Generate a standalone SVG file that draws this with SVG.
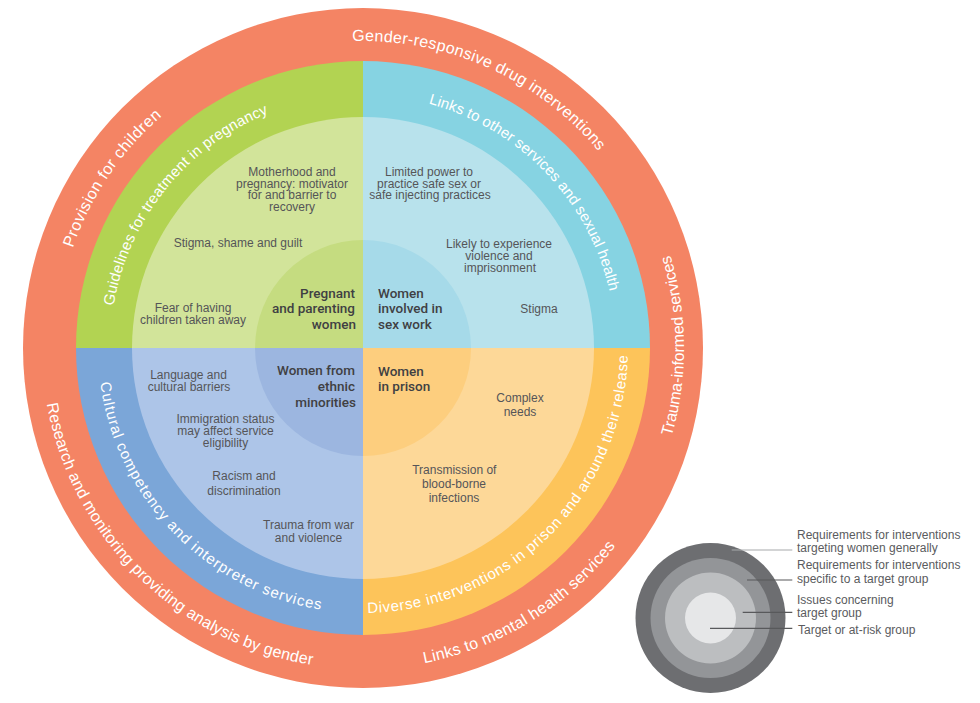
<svg xmlns="http://www.w3.org/2000/svg" width="980" height="703" viewBox="0 0 980 703">
<style>
.ring{font-family:"Liberation Sans",Arial,sans-serif;fill:#ffffff}
.outer{font-size:16px}
.inner{font-size:15px}
.issue{font-family:"Liberation Sans",Arial,sans-serif;font-size:12px;fill:#555558;text-anchor:middle}
.grp{font-family:Roboto,"Liberation Sans",Arial,sans-serif;font-size:13.5px;font-weight:500;fill:#404043}
.leg{font-family:"Liberation Sans",Arial,sans-serif;font-size:12px;fill:#5a5b5e}
.lead{stroke:#58595B;stroke-width:1.2;fill:none}
</style>
<defs>
<path id="pGender" d="M352.25,41.19 A307,307 0 0 1 598.17,150.66"/>
<path id="pProv" d="M72.73,248.05 A307,307 0 0 1 161.59,116.30"/>
<path id="pTrauma" d="M671.56,436.48 A321,321 0 0 0 669.98,254.15"/>
<path id="pResearch" d="M46.87,403.74 A321,321 0 0 0 312.78,665.05"/>
<path id="pMental" d="M424.25,663.1 A321,321 0 0 0 615.95,545.63"/>
<path id="pGuide" d="M113.47,305.91 A253,253 0 0 1 268.22,113.42"/>
<path id="pLinks" d="M428.48,103.62 A253,253 0 0 1 609.52,291.09"/>
<path id="pDiverse" d="M367.63,612.96 A265,265 0 0 0 627.91,354.94"/>
<path id="pCult" d="M100.26,382.59 A265,265 0 0 0 321.55,609.74"/>
</defs>

<g id="outer-ring">
<circle cx="363" cy="348" r="340" fill="#F48464"/>
</g>

<g id="pregnant-quadrant">
<path d="M363,348 L76,348 A287,287 0 0 1 363,61 Z" fill="#B2D352"/>
<path d="M363,348 L132,348 A231,231 0 0 1 363,117 Z" fill="#D2E49A"/>
<path d="M363,348 L255,348 A108,108 0 0 1 363,240 Z" fill="#C5DC80"/>
</g>
<g id="sexwork-quadrant">
<path d="M363,348 L363,61 A287,287 0 0 1 650,348 Z" fill="#86D3E2"/>
<path d="M363,348 L363,117 A231,231 0 0 1 594,348 Z" fill="#B8E2EC"/>
<path d="M363,348 L363,240 A108,108 0 0 1 471,348 Z" fill="#A6DAE9"/>
</g>
<g id="prison-quadrant">
<path d="M363,348 L650,348 A287,287 0 0 1 363,635 Z" fill="#FDC45A"/>
<path d="M363,348 L594,348 A231,231 0 0 1 363,579 Z" fill="#FDD898"/>
<path d="M363,348 L471,348 A108,108 0 0 1 363,456 Z" fill="#FDCE7E"/>
</g>
<g id="ethnic-quadrant">
<path d="M363,348 L363,635 A287,287 0 0 1 76,348 Z" fill="#7BA6D8"/>
<path d="M363,348 L363,579 A231,231 0 0 1 132,348 Z" fill="#ADC5E8"/>
<path d="M363,348 L363,456 A108,108 0 0 1 255,348 Z" fill="#9CB6E0"/>
</g>

<g id="ring-labels">
<text class="ring outer"><textPath href="#pGender" textLength="279" lengthAdjust="spacing">Gender-responsive drug interventions</textPath></text>
<text class="ring outer"><textPath href="#pProv" textLength="161" lengthAdjust="spacing">Provision for children</textPath></text>
<text class="ring outer"><textPath href="#pTrauma" textLength="184" lengthAdjust="spacing">Trauma-informed services</textPath></text>
<text class="ring outer"><textPath href="#pResearch" textLength="397" lengthAdjust="spacing">Research and monitoring providing analysis by gender</textPath></text>
<text class="ring outer"><textPath href="#pMental" textLength="229" lengthAdjust="spacing">Links to mental health services</textPath></text>
<text class="ring inner"><textPath href="#pGuide" textLength="258" lengthAdjust="spacing">Guidelines for treatment in pregnancy</textPath></text>
<text class="ring inner"><textPath href="#pLinks" textLength="274" lengthAdjust="spacing">Links to other services and sexual health</textPath></text>
<text class="ring inner"><textPath href="#pDiverse" textLength="404" lengthAdjust="spacing">Diverse interventions in prison and around their release</textPath></text>
<text class="ring inner"><textPath href="#pCult" textLength="339" lengthAdjust="spacing">Cultural competency and interpreter services</textPath></text>
</g>

<g id="pregnant-texts">
<text class="issue" x="292" y="176">Motherhood and</text>
<text class="issue" x="292" y="187.6">pregnancy: motivator</text>
<text class="issue" x="292" y="199.3">for and barrier to</text>
<text class="issue" x="292" y="211">recovery</text>
<text class="issue" x="238" y="247">Stigma, shame and guilt</text>
<text class="issue" x="193" y="311.5">Fear of having</text>
<text class="issue" x="193" y="324.3">children taken away</text>
<text class="grp" x="355" y="297.5" text-anchor="end">Pregnant</text>
<text class="grp" x="355" y="313" text-anchor="end">and parenting</text>
<text class="grp" x="356" y="328.8" text-anchor="end">women</text>
</g>

<g id="sexwork-texts">
<text class="issue" x="429" y="176">Limited power to</text>
<text class="issue" x="429" y="187.6">practice safe sex or</text>
<text class="issue" x="430" y="199.3">safe injecting practices</text>
<text class="issue" x="499" y="248.3">Likely to experience</text>
<text class="issue" x="499" y="260.3">violence and</text>
<text class="issue" x="500" y="271.6">imprisonment</text>
<text class="issue" x="539" y="312.6">Stigma</text>
<text class="grp" x="378" y="297.5">Women</text>
<text class="grp" x="378" y="313">involved in</text>
<text class="grp" x="378" y="328.8">sex work</text>
</g>

<g id="ethnic-texts">
<text class="issue" x="188.5" y="378.6">Language and</text>
<text class="issue" x="189" y="391">cultural barriers</text>
<text class="issue" x="225.5" y="422.6">Immigration status</text>
<text class="issue" x="225.5" y="435">may affect service</text>
<text class="issue" x="225.5" y="446.6">eligibility</text>
<text class="issue" x="244" y="480.3">Racism and</text>
<text class="issue" x="244" y="494.6">discrimination</text>
<text class="issue" x="308.5" y="528.6">Trauma from war</text>
<text class="issue" x="308.5" y="541.6">and violence</text>
<text class="grp" x="355" y="374.8" text-anchor="end">Women from</text>
<text class="grp" x="355" y="390.8" text-anchor="end">ethnic</text>
<text class="grp" x="356" y="407" text-anchor="end">minorities</text>
</g>

<g id="prison-texts">
<text class="grp" x="378" y="375.5">Women</text>
<text class="grp" x="378" y="390.8">in prison</text>
<text class="issue" x="520" y="402">Complex</text>
<text class="issue" x="520" y="416">needs</text>
<text class="issue" x="454.3" y="474.3">Transmission of</text>
<text class="issue" x="454" y="487.6">blood-borne</text>
<text class="issue" x="454" y="501.6">infections</text>
</g>

<g id="legend">
<circle cx="710.5" cy="618" r="75" fill="#6D6E71"/>
<circle cx="710.5" cy="618" r="60" fill="#939598"/>
<circle cx="710.5" cy="618" r="45.5" fill="#BCBEC0"/>
<circle cx="710.5" cy="618" r="25.5" fill="#E6E7E8"/>
</g>

<g id="connectors">
<line class="lead" x1="731.7" y1="550" x2="792.3" y2="550" style="stroke:#A7A9AC"/>
<line class="lead" x1="747" y1="580" x2="792.3" y2="580"/>
<line class="lead" x1="742.7" y1="612.3" x2="792.3" y2="612.3"/>
<line class="lead" x1="710" y1="628.3" x2="792.3" y2="628.3"/>
</g>

<g id="legend-labels">
<text class="leg" x="797" y="538.5">Requirements for interventions</text>
<text class="leg" x="797" y="552">targeting women generally</text>
<text class="leg" x="797" y="569">Requirements for interventions</text>
<text class="leg" x="797" y="583">specific to a target group</text>
<text class="leg" x="797" y="604">Issues concerning</text>
<text class="leg" x="797" y="617">target group</text>
<text class="leg" x="798" y="633.5">Target or at-risk group</text>
</g>
</svg>
